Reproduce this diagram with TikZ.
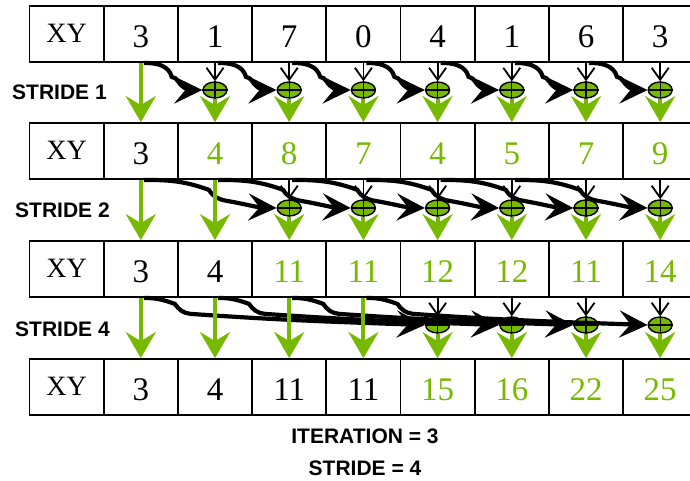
\documentclass[tikz,border=0pt]{standalone}
\usepackage{fontspec}
\setmainfont{Liberation Serif}
\newfontfamily\lblfont{Liberation Sans}
\usetikzlibrary{arrows.meta,shapes.geometric,calc}
\definecolor{nvgreen}{RGB}{118,185,0}
\begin{document}
\begin{tikzpicture}[x=1pt,y=1pt,
  cell/.style={draw,line width=1.8pt,minimum width=74.2pt,minimum height=56pt,inner sep=0pt,text height=27.6pt,text depth=0pt,font=\fontsize{33}{33}\selectfont},
  xycell/.style={cell,text height=16.6pt,font=\fontsize{28}{28}\selectfont},
  plus/.style={ellipse,draw,line width=1.4pt,fill=nvgreen,minimum width=24pt,minimum height=16pt,inner sep=0pt},
  garr/.style={draw=nvgreen,line width=4pt,-{Stealth[length=26pt,width=30pt,inset=9pt]}},
  tarr/.style={line width=1.8pt,-{Straight Barb[length=12pt,width=17pt]}},
  carr/.style={line width=4.2pt,-{Stealth[length=28pt,width=27pt,inset=11pt]}},
  lbl/.style={font=\lblfont\bfseries\fontsize{21}{21}\selectfont,inner sep=0pt}
]
\useasboundingbox (0,0) rectangle (690,-481);
\clip (0,0) rectangle (690,-481);
% cells
\foreach \rw/\yy/\g/\vals in {1/34/9/{3,1,7,0,4,1,6,3},2/151/2/{3,4,8,7,4,5,7,9},3/269/3/{3,4,11,11,12,12,11,14},4/387/5/{3,4,11,11,15,16,22,25}}{
  \node[xycell] (r\rw c0) at (66.6,-\yy) {XY};
  \foreach \v [count=\k] in \vals {
    \ifnum\k<\g \def\tc{black}\else\def\tc{nvgreen}\fi
    \node[cell,text=\tc] (r\rw c\k) at (66.6+74.2*\k,-\yy) {\v};
  }
}
% plus ellipses
\foreach \k in {2,...,8}{\node[plus] (a\k) at (66.6+74.2*\k,-90) {};}
\foreach \k in {3,...,8}{\node[plus] (b\k) at (66.6+74.2*\k,-208) {};}
\foreach \k in {5,...,8}{\node[plus] (c\k) at (66.6+74.2*\k,-325) {};}
\foreach \e in {a2,a3,a4,a5,a6,a7,a8,b3,b4,b5,b6,b7,b8,c5,c6,c7,c8}{
  \draw[line width=1.2pt] (\e.north)--(\e.south) (\e.west)--(\e.east);
}
% stride 1 curves
\foreach \k [evaluate=\k as \j using int(\k-1)] in {2,...,8}{
  \draw[carr] ([xshift=3pt]r1c\j.south) to[out=0,in=105] ++(28,-14) to[out=-15,in=120] ++(6,-4) to[out=-60,in=180] (a\k.west);
}
% stride 2 curves
\foreach \k [evaluate=\k as \j using int(\k-2), evaluate=\k as \m using int(\k-1)] in {3,...,8}{
  \draw[carr] ([xshift=3pt]r2c\j.south) to[out=0,in=160] ([xshift=-6pt,yshift=-10pt]r2c\m.south) to[out=-60,in=170] ([xshift=12pt,yshift=-21pt]r2c\m.south) to[out=-10,in=178] (b\k.west);
}
% stride 4 curves
\foreach \k [evaluate=\k as \j using int(\k-4)] in {5,...,8}{
  \draw[carr] ([xshift=3pt]r3c\j.south) to[out=0,in=160] ([xshift=34pt,yshift=-6pt]r3c\j.south) to[out=-55,in=175] ([xshift=50pt,yshift=-16pt]r3c\j.south) to[out=-4,in=178] (c\k.west);
}
% thin arrows into plus
\foreach \k in {2,...,8}{\draw[tarr] (r1c\k.south) -- (a\k.north);}
\foreach \k in {3,...,8}{\draw[tarr] (r2c\k.south) -- (b\k.north);}
\foreach \k in {5,...,8}{\draw[tarr] (r3c\k.south) -- (c\k.north);}
% green arrows
\draw[garr] (r1c1.south) -- (r2c1.north);
\foreach \k in {2,...,8}{\draw[garr] (a\k.south) -- (r2c\k.north);}
\foreach \k in {1,2}{\draw[garr] (r2c\k.south) -- (r3c\k.north);}
\foreach \k in {3,...,8}{\draw[garr] (b\k.south) -- (r3c\k.north);}
\foreach \k in {1,...,4}{\draw[garr] (r3c\k.south) -- (r4c\k.north);}
\foreach \k in {5,...,8}{\draw[garr] (c\k.south) -- (r4c\k.north);}
% labels
\node[lbl,anchor=west] (l1) at (12,-92) {STRIDE 1};
\node[lbl,anchor=west] (l2) at (15,-210) {STRIDE 2};
\node[lbl,anchor=west] (l4) at (15,-329) {STRIDE 4};
\node[lbl] (it) at (365,-436) {ITERATION = 3};
\node[lbl] (st) at (365,-468) {STRIDE = 4};
\end{tikzpicture}
\end{document}
